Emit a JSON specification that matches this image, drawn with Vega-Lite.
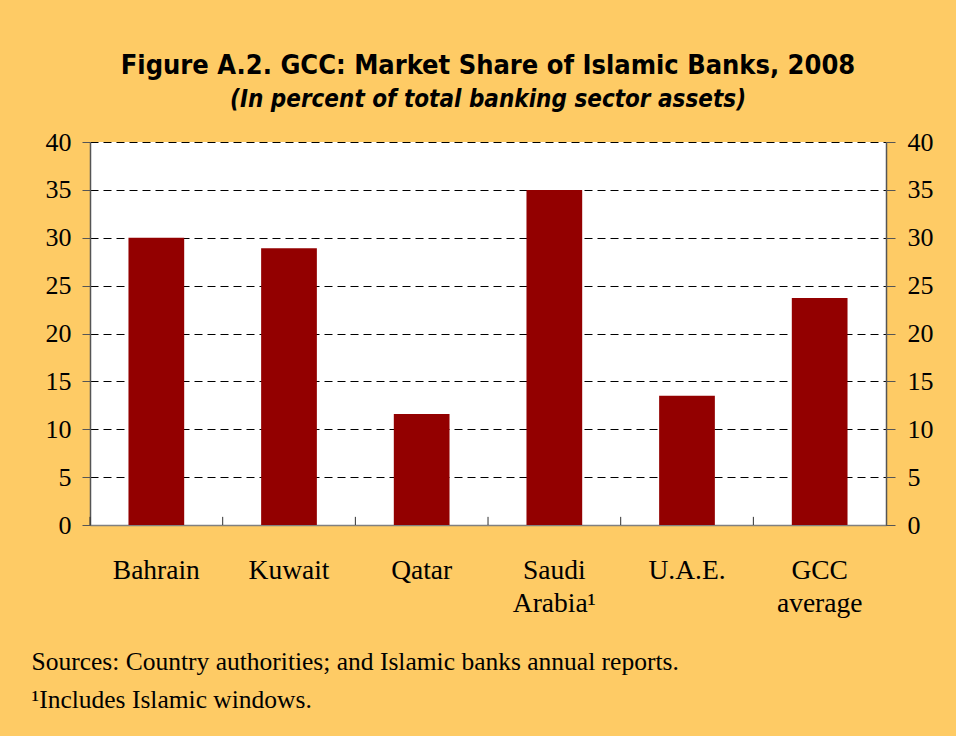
{
  "$schema": "https://vega.github.io/schema/vega-lite/v6.json",
  "autosize": "none",
  "width": 796,
  "height": 383,
  "padding": {"left": 90, "top": 142, "right": 70, "bottom": 211},
  "background": "#FECB65",
  "title": {
    "text": "Figure A.2. GCC: Market Share of Islamic Banks, 2008",
    "subtitle": "(In percent of total banking sector assets)",
    "anchor": "middle",
    "font": "DejaVu Sans Condensed, sans-serif",
    "fontSize": 27,
    "fontWeight": "bold",
    "color": "#000000",
    "subtitleFont": "DejaVu Sans Condensed, sans-serif",
    "subtitleFontSize": 24,
    "subtitleFontWeight": "bold",
    "subtitleFontStyle": "italic",
    "subtitleColor": "#000000",
    "subtitlePadding": 8,
    "offset": 16
  },
  "data": {
    "values": [
      {"country": "Bahrain", "share": 30.0},
      {"country": "Kuwait", "share": 28.9},
      {"country": "Qatar", "share": 11.6},
      {"country": "Saudi Arabia¹", "share": 35.0},
      {"country": "U.A.E.", "share": 13.5},
      {"country": "GCC average", "share": 23.7}
    ]
  },
  "encoding": {
    "x": {
      "field": "country",
      "type": "nominal",
      "sort": null,
      "scale": {"paddingInner": 0.58, "paddingOuter": 0.29},
      "axis": {
        "title": ["Sources: Country authorities; and Islamic banks annual reports.", "¹Includes Islamic windows."],
        "titleFont": "Liberation Serif, serif",
        "titleFontSize": 25.5,
        "titleFontWeight": "normal",
        "titleColor": "#000000",
        "titleAlign": "left",
        "titleBaseline": "alphabetic",
        "titleAngle": 0,
        "titleX": -59,
        "titleY": 144,
        "titleLineHeight": 38,
        "labelAngle": 0,
        "labelFont": "Liberation Serif, serif",
        "labelFontSize": 27.5,
        "labelColor": "#000000",
        "labelPadding": 31,
        "labelLineHeight": 33,
        "labelBaseline": "top",
        "labelExpr": "datum.value == 'Saudi Arabia¹' ? ['Saudi', 'Arabia¹'] : datum.value == 'GCC average' ? ['GCC', 'average'] : datum.value",
        "domainColor": "#808080",
        "domainWidth": 1.5,
        "ticks": false,
        "grid": false
      }
    }
  },
  "layer": [
    {
      "mark": {"type": "bar", "color": "#930000"},
      "encoding": {
        "y": {
          "field": "share",
          "type": "quantitative",
          "scale": {"domain": [0, 40]},
          "axis": {
            "orient": "left",
            "title": null,
            "values": [0, 5, 10, 15, 20, 25, 30, 35, 40],
            "labelFont": "Liberation Serif, serif",
            "labelFontSize": 26,
            "labelColor": "#000000",
            "labelPadding": 11,
            "tickSize": 8,
            "tickColor": "#555555",
            "domainColor": "#555555",
            "domainWidth": 1.5,
            "grid": true,
            "gridColor": "#000000",
            "gridDash": [8, 5],
            "gridWidth": 1,
            "gridOpacity": 1
          }
        }
      }
    },
    {
      "mark": {"type": "bar", "opacity": 0},
      "encoding": {
        "y": {
          "field": "share",
          "type": "quantitative",
          "scale": {"domain": [0, 40]},
          "axis": {
            "orient": "right",
            "title": null,
            "values": [0, 5, 10, 15, 20, 25, 30, 35, 40],
            "labelFont": "Liberation Serif, serif",
            "labelFontSize": 26,
            "labelColor": "#000000",
            "labelPadding": 12,
            "tickSize": 9,
            "tickColor": "#555555",
            "domainColor": "#555555",
            "domainWidth": 1.5,
            "grid": false
          }
        }
      }
    },
    {
      "mark": {"type": "rule", "color": "#303030", "strokeWidth": 1},
      "encoding": {
        "x": {"field": "country", "type": "nominal", "sort": null, "bandPosition": -0.69},
        "y": {"datum": 0, "axis": null},
        "y2": {"datum": 0.85}
      }
    }
  ],
  "resolve": {"axis": {"y": "independent"}},
  "config": {
    "view": {"fill": "#FFFFFF", "stroke": null}
  }
}
